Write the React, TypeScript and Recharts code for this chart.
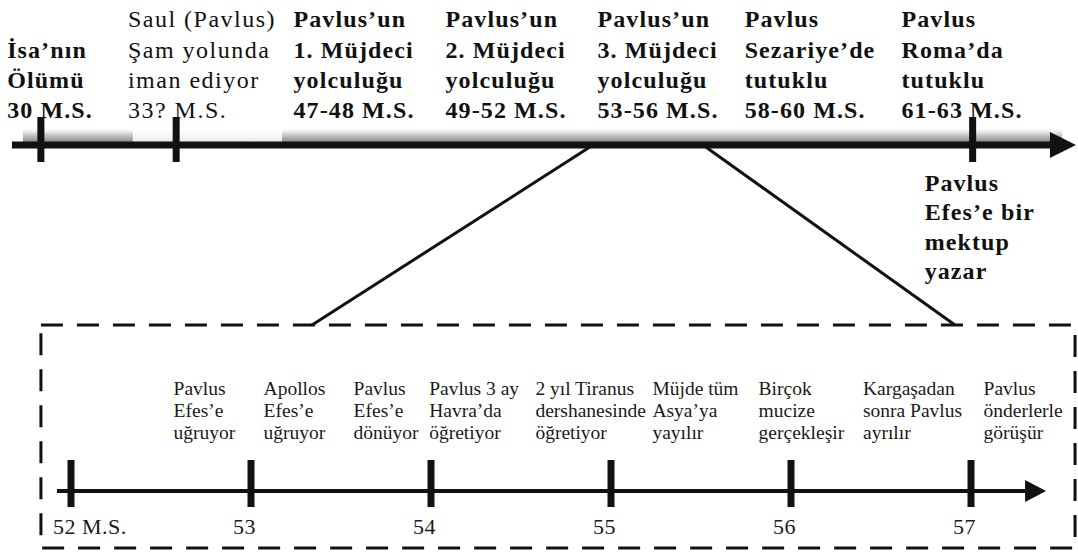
import { ComposedChart, XAxis, YAxis, Scatter, ReferenceLine, ReferenceArea } from 'recharts'

const SERIF = '"Liberation Serif", "Times New Roman", serif'
const INK = '#111'

// upper timeline, one column per period of Pavlus' life
const lifeEvents = [
  ['İsa’nın', 'Ölümü', '30 M.S.'],
  ['Saul (Pavlus)', 'Şam yolunda', 'iman ediyor', '33? M.S.'],
  ['Pavlus’un', '1. Müjdeci', 'yolculuğu', '47-48 M.S.'],
  ['Pavlus’un', '2. Müjdeci', 'yolculuğu', '49-52 M.S.'],
  ['Pavlus’un', '3. Müjdeci', 'yolculuğu', '53-56 M.S.'],
  ['Pavlus', 'Sezariye’de', 'tutuklu', '58-60 M.S.'],
  ['Pavlus', 'Roma’da', 'tutuklu', '61-63 M.S.'],
]
// tick marks on the upper line, in column units
const lifeMarks = [-0.06, 0.83, 6.07]
const letterNote = ['Pavlus', 'Efes’e bir', 'mektup', 'yazar']

// lower timeline (Efes years)
const years = [52, 53, 54, 55, 56, 57]
const yearLabels = ['52 M.S.', '53', '54', '55', '56', '57']

const efesEvents = [
  ['Pavlus', 'Efes’e', 'uğruyor'],
  ['Apollos', 'Efes’e', 'uğruyor'],
  ['Pavlus', 'Efes’e', 'dönüyor'],
  ['Pavlus 3 ay', 'Havra’da', 'öğretiyor'],
  ['2 yıl Tiranus', 'dershanesinde', 'öğretiyor'],
  ['Müjde tüm', 'Asya’ya', 'yayılır'],
  ['Birçok', 'mucize', 'gerçekleşir'],
  ['Kargaşadan', 'sonra Pavlus', 'ayrılır'],
  ['Pavlus', 'önderlerle', 'görüşür'],
]
const efesEventYears = [52.57, 53.07, 53.57, 53.99, 54.58, 55.23, 55.82, 56.4, 57.07]

// scale extents across the full 1078px width
const SLOT_DOMAIN = [-50 / 152, 1028 / 152]
const YEAR_DOMAIN = [52 - 71 / 180, 52 + 1007 / 180]

// layout rows (px from top)
const TOP_LINE_Y = 145
const TOP_TEXT_BASE = 118
const TOP_LH = 30.2
const LETTER_BASE = 190.5
const BOX_TOP = 325
const BOX_BOTTOM = 548
const EVENT_BASE = 395
const EVENT_LH = 22.2
const LINE_Y = 491

// horizontal extents in years of the lower scale
const TOP_LINE = [51.672, 57.583]
const LOW_LINE = [51.922, 57.417]
const BOX_X = [51.833, 57.578]
const ZOOM_FROM = [54.9, 55.511]
const ZOOM_TO = [53.339, 56.911]

let ctx: CanvasRenderingContext2D | null = null
function textWidth(s: string, font: string, spacing: number) {
  if (!ctx) ctx = document.createElement('canvas').getContext('2d')
  if (!ctx) return s.length * 11
  ctx.font = font
  return ctx.measureText(s).width + spacing * s.length
}

function LifeColumn(props: any) {
  const { cx, cy, payload } = props
  const plain = payload.slot === 1
  const size = 24
  const spacing = plain ? 1.5 : 1.1
  const font = `${plain ? 'normal' : 'bold'} ${size}px "Liberation Serif"`
  const w = Math.max(...payload.lines.map((l: string) => textWidth(l, font, spacing)))
  const n = payload.lines.length
  return (
    <text
      x={cx - w / 2}
      y={cy}
      fontFamily={SERIF}
      fontSize={size}
      fontWeight={plain ? 400 : 700}
      letterSpacing={spacing}
      fill={INK}
    >
      {payload.lines.map((l: string, i: number) => (
        <tspan key={i} x={cx - w / 2} y={cy - (n - 1 - i) * TOP_LH}>
          {l}
        </tspan>
      ))}
    </text>
  )
}

function LetterNote(props: any) {
  const { cx, cy, payload } = props
  return (
    <text x={cx - 48} y={cy} fontFamily={SERIF} fontSize={24} fontWeight={700} letterSpacing={1.1} fill={INK}>
      {payload.lines.map((l: string, i: number) => (
        <tspan key={i} x={cx - 48} y={cy + i * 29.5}>
          {l}
        </tspan>
      ))}
    </text>
  )
}

function LifeMark(props: any) {
  const { cx, cy } = props
  return <rect x={cx - 3.5} y={cy - 28} width={7} height={45} fill={INK} />
}

function YearTick(props: any) {
  const { cx, cy, payload } = props
  return (
    <g>
      <rect x={cx - 3.5} y={cy - 31} width={7} height={47} fill={INK} />
      <text x={cx - 18} y={cy + 43} fontFamily={SERIF} fontSize={22} letterSpacing={0.5} fill="#1a1a1a">
        {payload.label}
      </text>
    </g>
  )
}

function EfesEvent(props: any) {
  const { cx, cy, payload } = props
  return (
    <text x={cx} y={cy} fontFamily={SERIF} fontSize={19.5} fill="#1a1a1a">
      {payload.lines.map((l: string, i: number) => (
        <tspan key={i} x={cx} y={cy + i * EVENT_LH}>
          {l}
        </tspan>
      ))}
    </text>
  )
}

function Arrow(props: any, len: number, half: number, width: number) {
  const { x1, y1, x2, y2 } = props
  return (
    <g>
      <line x1={x1} y1={y1} x2={x2 - len + 2} y2={y2} stroke={INK} strokeWidth={width} />
      <polygon points={`${x2},${y2} ${x2 - len},${y2 - half} ${x2 - len},${y2 + half}`} fill={INK} />
    </g>
  )
}

export default function App() {
  const lifeData = lifeEvents.map((lines, i) => ({ slot: i, y: TOP_TEXT_BASE, lines }))
  const markData = lifeMarks.map((slot) => ({ slot, y: TOP_LINE_Y }))
  const letterData = [{ slot: lifeMarks[2], y: LETTER_BASE, lines: letterNote }]
  const yearData = years.map((year, i) => ({ year, y: LINE_Y, label: yearLabels[i] }))
  const eventData = efesEvents.map((lines, i) => ({ year: efesEventYears[i], y: EVENT_BASE, lines }))

  return (
    <div style={{ position: 'absolute', left: 0, top: 0, background: '#fff' }}>
      <ComposedChart width={1078} height={552} margin={{ top: 0, right: 0, bottom: 0, left: 0 }}>
        <defs>
          <linearGradient id="band" x1="0" y1="0" x2="0" y2="1">
            <stop offset="0%" stopColor="#ffffff" stopOpacity={0} />
            <stop offset="45%" stopColor="#d4d4d4" stopOpacity={1} />
            <stop offset="100%" stopColor="#8a8a8a" stopOpacity={1} />
          </linearGradient>
          <linearGradient id="bandFaint" x1="0" y1="0" x2="0" y2="1">
            <stop offset="0%" stopColor="#ffffff" stopOpacity={0} />
            <stop offset="100%" stopColor="#e6e6e6" stopOpacity={1} />
          </linearGradient>
        </defs>
        <XAxis xAxisId="slot" type="number" dataKey="slot" domain={SLOT_DOMAIN} hide />
        <XAxis xAxisId="yr" type="number" dataKey="year" domain={YEAR_DOMAIN} hide />
        <YAxis type="number" dataKey="y" domain={[0, 552]} reversed hide />

        <ReferenceArea xAxisId="yr" x1={51.733} x2={52.344} y1={127} y2={142} fill="url(#band)" fillOpacity={1} ifOverflow="visible" />
        <ReferenceArea xAxisId="yr" x1={52.344} x2={53.172} y1={127} y2={142} fill="url(#bandFaint)" fillOpacity={1} ifOverflow="visible" />
        <ReferenceArea xAxisId="yr" x1={53.172} x2={57.506} y1={127} y2={142} fill="url(#band)" fillOpacity={1} ifOverflow="visible" />
        <ReferenceArea
          xAxisId="yr"
          x1={BOX_X[0]}
          x2={BOX_X[1]}
          y1={BOX_TOP}
          y2={BOX_BOTTOM}
          fill="none"
          stroke={INK}
          strokeWidth={3}
          strokeDasharray="22 14"
          ifOverflow="visible"
        />

        <ReferenceLine
          xAxisId="yr"
          segment={[{ x: TOP_LINE[0], y: TOP_LINE_Y }, { x: TOP_LINE[1], y: TOP_LINE_Y }]}
          ifOverflow="visible"
          shape={(p: any) => Arrow(p, 26, 13, 7)}
        />
        <ReferenceLine
          xAxisId="yr"
          segment={[{ x: LOW_LINE[0], y: LINE_Y }, { x: LOW_LINE[1], y: LINE_Y }]}
          ifOverflow="visible"
          shape={(p: any) => Arrow(p, 21, 11, 4)}
        />
        <ReferenceLine
          xAxisId="yr"
          segment={[{ x: ZOOM_FROM[0], y: TOP_LINE_Y }, { x: ZOOM_TO[0], y: BOX_TOP }]}
          stroke={INK}
          strokeWidth={3}
          ifOverflow="visible"
        />
        <ReferenceLine
          xAxisId="yr"
          segment={[{ x: ZOOM_FROM[1], y: TOP_LINE_Y }, { x: ZOOM_TO[1], y: BOX_TOP }]}
          stroke={INK}
          strokeWidth={3}
          ifOverflow="visible"
        />

        <Scatter xAxisId="slot" data={lifeData} shape={LifeColumn} isAnimationActive={false} />
        <Scatter xAxisId="slot" data={markData} shape={LifeMark} isAnimationActive={false} />
        <Scatter xAxisId="slot" data={letterData} shape={LetterNote} isAnimationActive={false} />
        <Scatter xAxisId="yr" data={yearData} shape={YearTick} isAnimationActive={false} />
        <Scatter xAxisId="yr" data={eventData} shape={EfesEvent} isAnimationActive={false} />
      </ComposedChart>
    </div>
  )
}
